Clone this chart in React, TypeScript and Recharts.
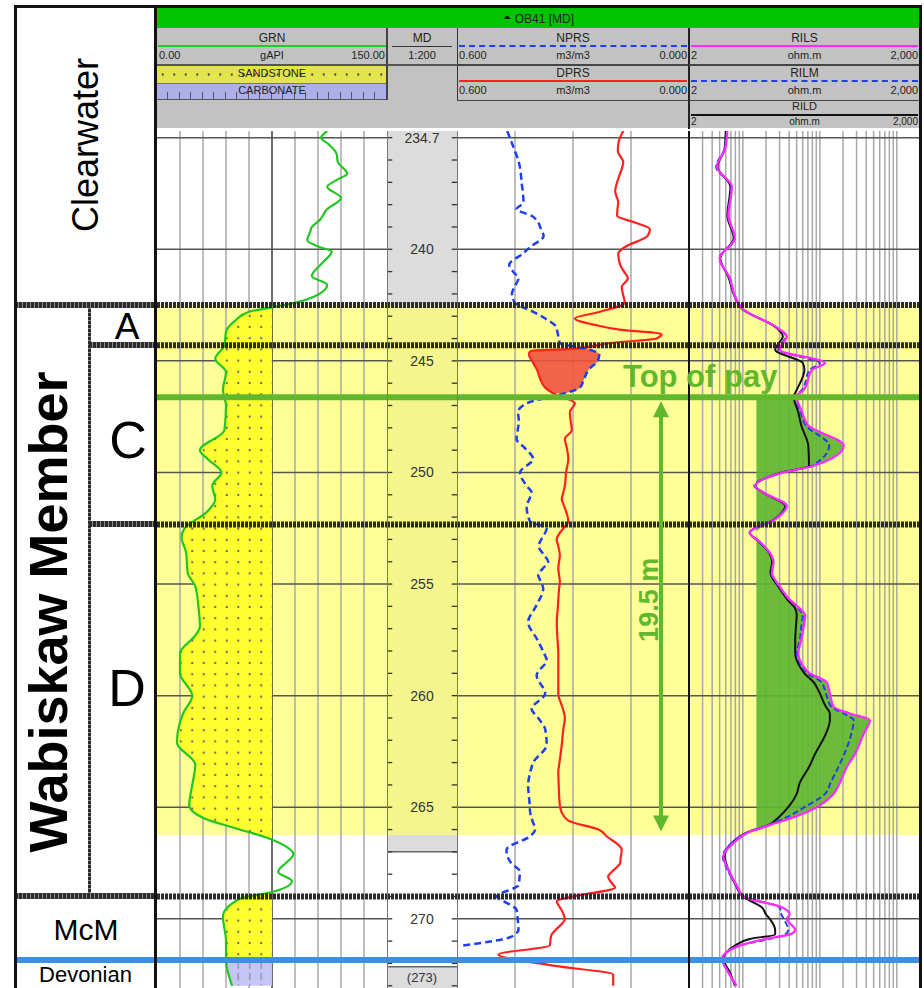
import React from 'react';
import { ComposedChart, Line, Area, XAxis, YAxis, ReferenceLine, ReferenceArea } from 'recharts';

const FONT = "'Liberation Sans', Arial, Helvetica, sans-serif";

// depth window and markers (m MD)
const DEPTH_TOP = 234.7;
const DEPTH_BASE = 273.1;
const DEPTH_GRID = [235, 240, 245, 250, 255, 260, 265, 270];
const MD_TICKS = [235, 236, 237, 238, 239, 240, 241, 242, 243, 244, 245, 246, 247, 248, 249, 250, 251, 252, 253, 254, 255,
  256, 257, 258, 259, 260, 261, 262, 263, 264, 265, 266, 267, 268, 269, 270, 271, 272, 273];
const MD_LABELS: Record<number, string> = { 235: '234.7', 240: '240', 245: '245', 250: '250', 255: '255', 260: '260', 265: '265', 270: '270' };
const MD_LOG_END = 266.99;
const MD_BOTTOM_BOX = 272.15;

const FORMATION_TOPS = [242.5, 244.3, 252.33, 269.0]; // Wabiskaw A, C, D, McMurray
const DEVONIAN_TOP = 271.85;
const PAY_TOP = 246.63;
const PAY_BASE = 266.13;
const SAND_BAND = [242.5, 266.24];

const GR_CUTOFF = 75;
const RES_CUTOFF = 15;
const GR_GRID = [15, 30, 45, 60, 75, 90, 105, 120, 135];
const POR_GRID = [0.15, 0.3, 0.45];
const RES_GRID = [3, 4, 5, 6, 7, 8, 9, 10, 20, 30, 40, 50, 60, 70, 80, 90, 100, 200, 300, 400, 500, 600, 700, 800, 900, 1000];

// gamma ray (gAPI)
const GR_DEPTH = [234.7, 235.0, 235.3, 235.7, 236.1, 236.6, 236.9, 237.2, 237.7, 238.2, 238.7, 239.0, 239.2, 239.6, 239.9,
  240.1, 240.6, 241.2, 241.6, 242.1, 242.4, 242.6, 242.8, 243.2, 243.7, 244.3, 244.9, 245.5, 246.3, 247.0, 248.1, 249.0,
  249.4, 250.0, 250.6, 251.2, 251.8, 252.5, 252.9, 253.6, 254.5, 255.1, 256.0, 256.9, 257.3, 258.1, 259.0, 260.0, 260.8,
  262.1, 263.1, 264.0, 264.9, 265.5, 265.9, 266.4, 266.8, 267.1, 267.9, 268.3, 268.8, 269.1, 269.9, 271.0, 271.85, 273.0];
const GR_API = [111, 107, 112, 117, 118, 124, 117, 111, 120, 111, 106, 101, 100, 98, 106,
  114, 108, 101, 111, 103, 90, 75, 60, 51, 45, 44, 38, 45, 43, 45, 44, 28,
  33, 42, 36, 38, 32, 18, 16, 19, 20, 25, 27, 28, 25, 15, 15, 23, 17,
  13, 25, 23, 21, 31, 49, 73, 85, 89, 79, 88, 75, 54, 43, 45, 45, 49];

// porosity (m3/m3)
const POR_DEPTH = [234.7, 235.2, 235.6, 236.1, 236.6, 237.0, 237.4, 237.9, 238.2, 238.5,
  238.8, 239.1, 239.4, 239.9, 240.2, 240.7, 241.0, 241.3, 241.7, 242.0,
  242.4, 242.8, 243.1, 243.4, 243.6, 243.8, 244.0, 244.2, 244.45, 244.55,
  244.7, 245.0, 245.4, 245.8, 246.2, 246.45, 246.9, 247.3, 247.7, 248.1,
  248.5, 248.9, 249.4, 250.0, 250.6, 250.9, 251.2, 251.5, 252.2, 252.5,
  253.0, 253.3, 253.7, 254.0, 254.3, 254.6, 254.9, 255.2, 256.0, 256.7,
  257.5, 258.1, 258.4, 259.1, 259.9, 260.6, 261.0, 261.5, 262.2, 263.0,
  263.4, 264.0, 264.9, 265.2, 265.6, 266.0, 266.3, 266.9, 267.3, 267.5,
  267.9, 268.1, 268.5, 268.6, 269.0, 269.2, 269.6, 270.0, 270.5, 270.7,
  270.8, 271.2, 271.6, 272.1, 272.5, 273.0];
const NPRS = [0.470, 0.459, 0.450, 0.440, 0.435, 0.433, 0.430, 0.428, 0.446, 0.407,
  0.390, 0.383, 0.376, 0.411, 0.430, 0.465, 0.455, 0.441, 0.452, 0.458,
  0.450, 0.403, 0.372, 0.347, 0.342, 0.339, 0.337, 0.334, 0.270, 0.248,
  0.232, 0.236, 0.260, 0.271, 0.282, 0.321, 0.420, 0.442, 0.440, 0.443,
  0.446, 0.425, 0.403, 0.437, 0.420, 0.407, 0.413, 0.420, 0.411, 0.368,
  0.382, 0.389, 0.375, 0.364, 0.378, 0.390, 0.383, 0.377, 0.396, 0.416,
  0.392, 0.375, 0.368, 0.394, 0.372, 0.407, 0.390, 0.372, 0.368, 0.403,
  0.410, 0.416, 0.412, 0.411, 0.405, 0.398, 0.411, 0.472, 0.467, 0.460,
  0.437, 0.438, 0.441, 0.450, 0.497, 0.480, 0.446, 0.443, 0.441, 0.450,
  0.459, 0.584, null, null, null, null];
const DPRS = [0.170, 0.182, 0.184, 0.170, 0.178, 0.186, 0.191, 0.183, 0.185, 0.186,
  0.140, 0.101, 0.107, 0.166, 0.183, 0.178, 0.168, 0.158, 0.174, 0.171,
  0.166, 0.230, 0.295, 0.240, 0.180, 0.071, 0.084, 0.204, 0.295, 0.409,
  0.414, 0.406, 0.393, 0.385, 0.372, 0.352, 0.295, 0.308, 0.306, 0.303,
  0.321, 0.316, 0.312, 0.318, 0.321, 0.325, 0.329, 0.323, 0.312, 0.325,
  0.342, 0.338, 0.334, 0.336, 0.338, 0.336, 0.334, 0.336, 0.339, 0.342,
  0.340, 0.338, 0.338, 0.338, 0.338, 0.326, 0.321, 0.325, 0.329, 0.335,
  0.338, 0.337, 0.334, 0.330, 0.312, 0.234, 0.213, 0.174, 0.177, 0.178,
  0.200, 0.209, 0.195, 0.191, 0.300, 0.342, 0.330, 0.321, 0.345, 0.355,
  0.357, 0.360, 0.493, 0.351, 0.196, 0.196];

// resistivity (ohm.m)
const RES_DEPTH = [234.7, 235.5, 236.3, 237.2, 238.5, 239.5, 240.4, 241.3, 242.1, 242.7,
  243.5, 243.9, 244.5, 245.1, 245.4, 246.3, 246.6, 247.3, 247.9, 248.8,
  249.7, 250.0, 250.6, 250.9, 251.5, 252.1, 252.7, 253.1, 253.6, 254.0,
  254.5, 255.1, 255.7, 256.1, 256.4, 256.9, 257.5, 258.1, 258.7, 259.0,
  259.4, 259.9, 260.5, 260.8, 261.1, 261.7, 262.6, 263.2, 263.9, 264.4,
  265.0, 265.4, 265.8, 266.1, 266.6, 267.2, 267.8, 268.5, 269.0, 269.5,
  269.8, 270.0, 270.5, 270.7, 270.9, 271.2, 271.8, 272.4, 273.0];
const RILS = [6.3, 5.9, 4.6, 7.2, 6.5, 7.9, 5.0, 6.8, 7.9, 10.2,
  27.5, 37.2, 30.2, 117, 79.4, 61.7, 50.1, 58.9, 70.8, 204,
  83.2, 33.9, 14.5, 18.6, 37.2, 26.3, 12.3, 16.6, 22.4, 25.1,
  24.0, 30.2, 40.7, 55.0, 64.6, 61.7, 57.5, 52.5, 61.7, 74.1,
  123, 135, 151, 245, 447, 372, 288, 224, 182, 151,
  91.2, 50.1, 22.4, 12.3, 7.6, 5.6, 6.5, 8.3, 10.2, 33.1,
  40.7, 37.2, 47.9, 40.7, 20.0, 9.1, 5.4, 6.5, 8.3];
const RILM = [6.2, 5.8, 4.5, 7.1, 6.5, 7.8, 5.0, 6.8, 7.9, 10.2,
  27.5, 36.3, 28.8, 100, 74.1, 58.9, 49.0, 56.2, 66.1, 132,
  79.4, 33.1, 14.1, 18.6, 36.3, 25.7, 12.3, 16.2, 22.4, 24.5,
  23.4, 29.5, 39.8, 52.5, 60.3, 57.5, 55.0, 50.1, 58.9, 69.2,
  105, 120, 141, 204, 275, 257, 209, 174, 138, 117,
  63.1, 39.8, 21.4, 12.0, 7.2, 5.5, 6.3, 8.3, 10.2, 30.2,
  31.6, 33.9, 38.9, 35.5, 22.4, 9.1, 5.4, 6.5, 8.3];
const RILD = [6.0, 5.8, 4.7, 6.9, 6.3, 7.6, 5.1, 6.6, 7.8, 10.0,
  26.9, 33.1, 26.3, 60.3, 63.1, 50.1, 45.7, 52.5, 57.5, 70.8,
  72.4, 32.4, 14.5, 18.2, 35.5, 25.7, 12.3, 16.2, 21.9, 24.0,
  22.9, 28.8, 38.0, 47.9, 50.1, 49.0, 47.9, 47.9, 55.0, 63.1,
  83.2, 100, 120, 135, 135, 120, 87.1, 72.4, 55.0, 50.1,
  38.9, 30.2, 21.4, 12.0, 7.2, 5.8, 6.5, 8.1, 10.0, 17.8,
  20.0, 22.4, 26.3, 26.3, 12.3, 7.9, 5.6, 6.8, 7.9];

// tables for the charts
const grTable = GR_DEPTH.map((d, i) => {
  const gr = GR_API[i];
  const sandZone = d >= FORMATION_TOPS[0] && d <= DEVONIAN_TOP && gr <= GR_CUTOFF;
  return { d, gr, sand: sandZone ? [gr, GR_CUTOFF] : null, carb: d >= DEVONIAN_TOP ? [gr, GR_CUTOFF] : null };
});
const porTable = POR_DEPTH.map((d, i) => {
  const n = NPRS[i];
  const dp = DPRS[i];
  return { d, nprs: n, dprs: dp, gas: n != null && dp > n ? [n, dp] : null };
});
const resTable = RES_DEPTH.map((d, i) => ({
  d,
  rils: RILS[i],
  rilm: RILM[i],
  rild: RILD[i],
  pay: d >= PAY_TOP - 0.05 && d <= PAY_BASE ? [RES_CUTOFF, Math.max(RILS[i], RES_CUTOFF)] : null,
}));
// the depth column carries no curve; a flat, invisible series keeps the axes alive
const mdTable = MD_TICKS.map((d) => ({ d, mid: 0.5 }));

const PLOT_TOP = 131;
const PLOT_H = 857;
const yOf = (d: number) => PLOT_TOP + ((d - DEPTH_TOP) / (DEPTH_BASE - DEPTH_TOP)) * PLOT_H;

const PAY_GREEN = '#62b82c';
const DEVONIAN_BLUE = '#3d8fe6';

function markerLines() {
  return [
    ...FORMATION_TOPS.map((d) => (
      <ReferenceLine key={'f' + d} y={d} stroke="#2b2b2b" strokeWidth={6} strokeDasharray="3 1" zIndex={700} />
    )),
    <ReferenceLine key="dev" y={DEVONIAN_TOP} stroke={DEVONIAN_BLUE} strokeWidth={6} zIndex={700} />,
    <ReferenceLine key="pay" y={PAY_TOP} stroke={PAY_GREEN} strokeWidth={6} zIndex={710} />,
  ];
}

function bandArea() {
  return (
    <ReferenceArea key="band" y1={SAND_BAND[0]} y2={SAND_BAND[1]} fill="#ffff70" fillOpacity={0.72} stroke="none" zIndex={-300} />
  );
}

function Track({ left, width, data, xDomain, reversed, log, vGrid, majorV, defs, children }: any) {
  return (
    <div style={{ position: 'absolute', left, top: PLOT_TOP }}>
      <ComposedChart width={width} height={PLOT_H} data={data} layout="vertical" margin={{ top: 0, right: 0, bottom: 0, left: 0 }}>
        {defs}
        <XAxis type="number" domain={xDomain} reversed={reversed} scale={log ? 'log' : 'auto'} hide allowDataOverflow />
        <YAxis type="number" dataKey="d" domain={[DEPTH_TOP, DEPTH_BASE]} hide allowDataOverflow />
        {bandArea()}
        {vGrid.map((v: number) => (
          <ReferenceLine key={'v' + v} x={v} stroke={majorV.includes(v) ? '#3a3a3a' : '#a8a8a8'} strokeWidth={1.5} zIndex={-200} />
        ))}
        {DEPTH_GRID.map((d) => (
          <ReferenceLine key={'h' + d} y={d} stroke="#555" strokeWidth={1.5} zIndex={-200} />
        ))}
        {children}
        {markerLines()}
      </ComposedChart>
    </div>
  );
}

function MdTrack() {
  return (
    <div style={{ position: 'absolute', left: 387, top: PLOT_TOP }}>
      <ComposedChart width={70} height={PLOT_H} data={mdTable} layout="vertical" margin={{ top: 0, right: 0, bottom: 0, left: 0 }}>
        <XAxis type="number" domain={[0, 1]} hide allowDataOverflow />
        <YAxis type="number" dataKey="d" domain={[DEPTH_TOP, DEPTH_BASE]} hide allowDataOverflow />
        <ReferenceArea y1={DEPTH_TOP} y2={MD_LOG_END} fill="#dcdcdc" fillOpacity={1} stroke="none" zIndex={-400} />
        <ReferenceArea y1={MD_BOTTOM_BOX} y2={DEPTH_BASE} fill="#dcdcdc" fillOpacity={1} stroke="none" zIndex={-400} />
        {bandArea()}
        <ReferenceLine y={MD_LOG_END} stroke="#666" strokeWidth={1.5} />
        <ReferenceLine y={MD_BOTTOM_BOX} stroke="#666" strokeWidth={1.5} />
        <Line dataKey="mid" stroke="none" dot={false} isAnimationActive={false} />
        {MD_TICKS.map((d) => (
          <ReferenceLine key={'tl' + d} segment={[{ x: 0, y: d }, { x: 0.075, y: d }]} stroke="#333" strokeWidth={1.3} />
        ))}
        {MD_TICKS.map((d) => (
          <ReferenceLine key={'tr' + d} segment={[{ x: 0.925, y: d }, { x: 1, y: d }]} stroke="#333" strokeWidth={1.3} />
        ))}
        {MD_TICKS.filter((d) => MD_LABELS[d]).map((d) => (
          <ReferenceLine key={'lb' + d} segment={[{ x: 0.15, y: d }, { x: 0.85, y: d }]} stroke="none"
            label={{ value: MD_LABELS[d], position: 'center', fill: '#333', fontSize: 14, fontFamily: FONT }} />
        ))}
        {markerLines()}
      </ComposedChart>
    </div>
  );
}

function T({ x, y, w, align = 'center', size = 11, children }: any) {
  return (
    <div style={{ position: 'absolute', left: x, top: y - size * 0.6, width: w, textAlign: align, fontSize: size,
      lineHeight: `${size * 1.2}px`, fontFamily: FONT, color: '#222', whiteSpace: 'nowrap' }}>
      {children}
    </div>
  );
}

function Box({ x, y, w, h, bg }: any) {
  return <div style={{ position: 'absolute', left: x, top: y, width: w, height: h, background: bg }} />;
}

function ScaleRow({ x, w, y, lo, unit, hi, size = 11 }: any) {
  return (
    <>
      <T x={x + 2} y={y} w={w - 4} align="left" size={size}>{lo}</T>
      <T x={x} y={y} w={w} align="center" size={size}>{unit}</T>
      <T x={x + 2} y={y} w={w - 4} align="right" size={size}>{hi}</T>
    </>
  );
}

function Header() {
  return (
    <div style={{ position: 'absolute', left: 0, top: 0, width: 924, height: 129, overflow: 'hidden' }}>
      <Box x={157} y={8} w={763} h={20} bg="#00c400" />
      <T x={157} y={18} w={763} size={12}><span style={{ fontSize: 14 }}>◓</span> OB41 [MD]</T>
      <Box x={157} y={28} w={763} h={100} bg="#c2c2c2" />

      {/* GR */}
      <T x={157} y={38} w={230} size={12}>GRN</T>
      <Box x={158} y={44.5} w={228} h={2} bg="#22cc22" />
      <ScaleRow x={157} w={230} y={56} lo="0.00" unit="gAPI" hi="150.00" />
      <Box x={157} y={64} w={230} h={1.5} bg="#555" />
      <div style={{ position: 'absolute', left: 157, top: 65.5, width: 230, height: 17, background: '#e4e44c',
        backgroundImage: 'radial-gradient(circle, #555 1px, transparent 1.4px)', backgroundSize: '11.5px 17px' }} />
      <T x={157} y={74} w={230} size={11}>SANDSTONE</T>
      <Box x={157} y={82.5} w={230} h={1} bg="#777" />
      <div style={{ position: 'absolute', left: 157, top: 83.5, width: 230, height: 16.5, background: '#aeaee8',
        backgroundImage: 'repeating-linear-gradient(90deg, transparent 0 10.5px, #555 10.5px 11.5px)',
        backgroundSize: '100% 9px', backgroundPosition: '0 8px', backgroundRepeat: 'no-repeat' }} />
      <Box x={157} y={99} w={230} h={1} bg="#555" />
      <T x={157} y={91} w={230} size={11}>CARBONATE</T>
      <Box x={386} y={28} w={1.5} h={72} bg="#444" />

      {/* MD */}
      <T x={387} y={38} w={70} size={12}>MD</T>
      <Box x={392} y={45.5} w={60} h={1.5} bg="#333" />
      <T x={387} y={56} w={70} size={11}>1:200</T>
      <Box x={387} y={64} w={70} h={1.5} bg="#555" />

      {/* porosity */}
      <Box x={456.5} y={28} w={1.5} h={72} bg="#333" />
      <T x={457} y={38} w={232} size={12}>NPRS</T>
      <div style={{ position: 'absolute', left: 459, top: 44.5, width: 228, borderTop: '2.5px dashed #1f3fe8' }} />
      <ScaleRow x={457} w={232} y={56} lo="0.600" unit="m3/m3" hi="0.000" />
      <Box x={457} y={64} w={232} h={1.5} bg="#444" />
      <T x={457} y={73} w={232} size={12}>DPRS</T>
      <Box x={459} y={79.5} w={228} h={2} bg="#ff2020" />
      <ScaleRow x={457} w={232} y={91} lo="0.600" unit="m3/m3" hi="0.000" />
      <Box x={457} y={99.5} w={232} h={1.5} bg="#444" />

      {/* resistivity */}
      <Box x={688} y={28} w={2} h={101} bg="#222" />
      <T x={689} y={38} w={231} size={12}>RILS</T>
      <Box x={691} y={44.5} w={227} h={2} bg="#ff2cff" />
      <ScaleRow x={689} w={231} y={56} lo="2" unit="ohm.m" hi="2,000" />
      <Box x={689} y={64} w={231} h={1.5} bg="#444" />
      <T x={689} y={73} w={231} size={12}>RILM</T>
      <div style={{ position: 'absolute', left: 691, top: 79.5, width: 227, borderTop: '2.5px dashed #1f3fe8' }} />
      <ScaleRow x={689} w={231} y={91} lo="2" unit="ohm.m" hi="2,000" />
      <Box x={689} y={99.5} w={231} h={1.5} bg="#444" />
      <T x={689} y={107} w={231} size={11}>RILD</T>
      <Box x={691} y={113.5} w={227} h={2} bg="#111" />
      <ScaleRow x={689} w={231} y={121.5} lo="2" unit="ohm.m" hi="2,000" size={10} />
    </div>
  );
}

function Label({ text, cx, cy, size, bold, rotate }: any) {
  return (
    <div style={{ position: 'absolute', left: cx - 300, top: cy - size, width: 600, height: size * 2, display: 'flex',
      alignItems: 'center', justifyContent: 'center', fontSize: size, fontFamily: FONT, fontWeight: bold ? 700 : 400,
      lineHeight: 1, whiteSpace: 'nowrap', color: '#000', transform: rotate ? 'rotate(-90deg)' : undefined }}>
      {text}
    </div>
  );
}

function LeftColumn() {
  const [a, c, dd, mcm] = FORMATION_TOPS.map(yOf);
  const dev = yOf(DEVONIAN_TOP);
  const hatch = 'repeating-linear-gradient(90deg, #2b2b2b 0 3px, #8a8a8a 3px 4px)';
  const hLine = (x1: number, x2: number, y: number, bg: string) => (
    <div style={{ position: 'absolute', left: x1, top: y - 3, width: x2 - x1, height: 6, background: bg }} />
  );
  return (
    <>
      <Label text="Clearwater" cx={86} cy={145} size={36} rotate />
      <Label text="Wabiskaw Member" cx={48} cy={612} size={54} bold rotate />
      <Label text="A" cx={127} cy={(a + c) / 2 + 1} size={37} />
      <Label text="C" cx={128} cy={440} size={52} />
      <Label text="D" cx={127} cy={688} size={52} />
      <Label text="McM" cx={86} cy={(mcm + dev) / 2 + 2} size={30} />
      <div style={{ position: 'absolute', left: 17, top: 963, width: 137, height: 24, textAlign: 'center',
        fontSize: 22, fontFamily: FONT, lineHeight: '24px', color: '#000', whiteSpace: 'nowrap' }}>
        Devonian
      </div>
      <div style={{ position: 'absolute', left: 88, top: a, width: 3, height: mcm - a,
        background: 'repeating-linear-gradient(0deg, #2b2b2b 0 3px, #8a8a8a 3px 4px)' }} />
      {hLine(15, 157, a, hatch)}
      {hLine(89, 157, c, hatch)}
      {hLine(89, 157, dd, hatch)}
      {hLine(15, 157, mcm, hatch)}
      {hLine(15, 157, dev, DEVONIAN_BLUE)}
      {/* frame */}
      <Box x={14} y={5} w={908} h={3} bg="#111" />
      <Box x={14} y={5} w={3} h={983} bg="#111" />
      <Box x={154} y={5} w={3} h={983} bg="#111" />
      <Box x={919} y={5} w={3} h={983} bg="#111" />
      <Box x={688} y={PLOT_TOP} w={2} h={PLOT_H} bg="#111" />
      <Box x={386.5} y={PLOT_TOP} w={1} h={PLOT_H} bg="#777" />
      <Box x={456.5} y={PLOT_TOP} w={1} h={PLOT_H} bg="#777" />
    </>
  );
}

function Annotations() {
  const yTop = yOf(PAY_TOP);
  const yBase = yOf(PAY_BASE);
  const ax = 661;
  return (
    <svg width={924} height={988} style={{ position: 'absolute', left: 0, top: 0, pointerEvents: 'none' }}>
      <text x={623} y={yTop - 10} fontFamily={FONT} fontSize={31} fontWeight="bold" fill={PAY_GREEN}>Top of pay</text>
      <line x1={ax} x2={ax} y1={yTop + 19} y2={yBase - 16} stroke={PAY_GREEN} strokeWidth={4} />
      <polygon points={`${ax - 8},${yTop + 20} ${ax + 8},${yTop + 20} ${ax},${yTop + 4}`} fill={PAY_GREEN} />
      <polygon points={`${ax - 8},${yBase - 17} ${ax + 8},${yBase - 17} ${ax},${yBase - 1}`} fill={PAY_GREEN} />
      <text transform={`translate(658 ${(yTop + yBase) / 2 - 15}) rotate(-90)`} textAnchor="middle" fontFamily={FONT}
        fontSize={27} fontWeight="bold" fill={PAY_GREEN}>
        {`${(PAY_BASE - PAY_TOP).toFixed(1)} m`}
      </text>
      <text x={422} y={yOf(272.62) + 5} textAnchor="middle" fontFamily={FONT} fontSize={13} fill="#333">(273)</text>
    </svg>
  );
}

export default function App() {
  const grDefs = (
    <defs>
      <pattern id="sandDots" x={-5} y={0} width={11.5} height={11.2} patternUnits="userSpaceOnUse">
        <rect width={11.5} height={11.2} fill="#ffff30" />
        <circle cx={5.75} cy={5.6} r={1.1} fill="#666" />
      </pattern>
      <pattern id="carbTicks" x={-5} y={0} width={11.5} height={11.2} patternUnits="userSpaceOnUse">
        <rect width={11.5} height={11.2} fill="#c6c6f6" />
        <line x1={5.75} x2={5.75} y1={2} y2={9} stroke="#777" strokeWidth={1} />
      </pattern>
    </defs>
  );
  return (
    <div style={{ position: 'absolute', left: 0, top: 0, width: 924, height: 988, overflow: 'hidden', background: '#fff' }}>
      <Header />
      <Track left={157} width={230} data={grTable} xDomain={[0, 150]} vGrid={GR_GRID} majorV={[GR_CUTOFF]} defs={grDefs}>
        <Area dataKey="sand" type="monotone" fill="url(#sandDots)" fillOpacity={1} stroke="none" isAnimationActive={false} />
        <Area dataKey="carb" type="monotone" fill="url(#carbTicks)" fillOpacity={1} stroke="none" isAnimationActive={false} />
        <Line dataKey="gr" type="monotone" stroke="#22c622" strokeWidth={2.2} dot={false} isAnimationActive={false} />
      </Track>
      <MdTrack />
      <Track left={457} width={232} data={porTable} xDomain={[0, 0.6]} reversed vGrid={POR_GRID} majorV={[]}>
        <Area dataKey="gas" type="monotone" fill="#f0533f" fillOpacity={0.9} stroke="none" isAnimationActive={false} />
        <Line dataKey="dprs" type="monotone" stroke="#ff2020" strokeWidth={2.2} dot={false} isAnimationActive={false} />
        <Line dataKey="nprs" type="monotone" stroke="#1f3ff0" strokeWidth={2.5} strokeDasharray="7 4" dot={false} isAnimationActive={false} />
      </Track>
      <Track left={689} width={231} data={resTable} xDomain={[2, 2000]} log vGrid={RES_GRID} majorV={[]}>
        <Area dataKey="pay" type="monotone" fill="#5fb533" fillOpacity={0.92} stroke="none" isAnimationActive={false} />
        <Line dataKey="rild" type="monotone" stroke="#111" strokeWidth={2} dot={false} isAnimationActive={false} />
        <Line dataKey="rilm" type="monotone" stroke="#2040e0" strokeWidth={2} strokeDasharray="6 3" dot={false} isAnimationActive={false} />
        <Line dataKey="rils" type="monotone" stroke="#ff2cff" strokeWidth={2.3} dot={false} isAnimationActive={false} />
      </Track>
      <LeftColumn />
      <Annotations />
    </div>
  );
}
